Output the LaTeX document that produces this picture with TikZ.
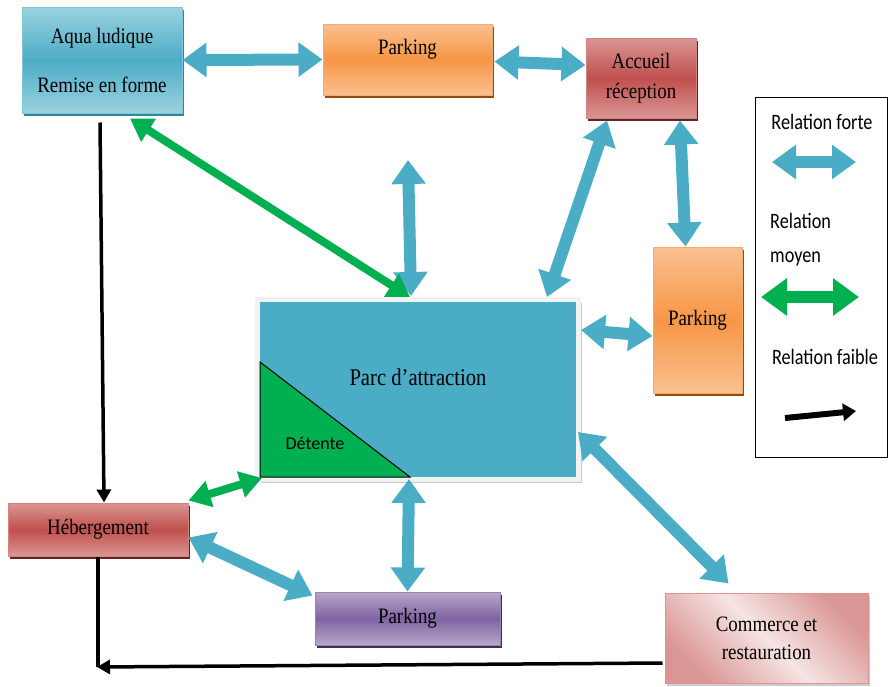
\documentclass[tikz,border=0pt]{standalone}
\usepackage{fontspec}
\setmainfont{Liberation Serif}[FakeStretch=0.86]
\newfontfamily\legfont{Carlito}[FakeStretch=0.83]
\newfontfamily\detfont{Carlito}
\usetikzlibrary{arrows.meta,positioning,calc,shadows}
\definecolor{bleu}{HTML}{4BACC6}
\definecolor{bleuclair}{HTML}{9CD2E0}
\definecolor{bleufonce}{HTML}{31859C}
\definecolor{orangepk}{HTML}{F79646}
\definecolor{orangeclair}{HTML}{FAC090}
\definecolor{orangefonce}{HTML}{984807}
\definecolor{rouge}{HTML}{C0504D}
\definecolor{rougeclair}{HTML}{DA9694}
\definecolor{rougefonce}{HTML}{632523}
\definecolor{mauve}{HTML}{8064A2}
\definecolor{mauveclair}{HTML}{B7A6CB}
\definecolor{mauvefonce}{HTML}{3F3151}
\definecolor{vert}{HTML}{00B050}
\definecolor{rose}{HTML}{F6E4E3}
\definecolor{rosefonce}{HTML}{D99694}

\begin{document}
\begin{tikzpicture}[x=1pt,y=-1pt,
    boite/.style={rectangle, line width=1pt, align=center, inner sep=2pt, font=\fontsize{22}{26}\selectfont},
    ombre/.style={drop shadow={shadow xshift=2pt,shadow yshift=-3pt,fill=#1,opacity=1}},
    bleubox/.style={boite, draw=bleu!70, top color=bleuclair, bottom color=bleuclair, middle color=bleu, ombre=bleufonce},
    orangebox/.style={boite, draw=orangepk!80, top color=orangeclair, bottom color=orangeclair, middle color=orangepk, ombre=orangefonce},
    rougebox/.style={boite, draw=rouge!70, top color=rougeclair, bottom color=rougeclair, middle color=rouge, ombre=rougefonce},
    mauvebox/.style={boite, draw=mauve!80, top color=mauveclair, bottom color=mauveclair, middle color=mauve, ombre=mauvefonce},
    rosebox/.style={boite, draw=rosefonce, left color=rosefonce, right color=rosefonce, middle color=rose, shading angle=135, ombre=gray!40},
    forte/.style={draw=bleu, line width=12pt, {Triangle[width=33pt,length=24pt]}-{Triangle[width=33pt,length=24pt]}},
    moyen/.style={draw=vert, line width=8pt, {Triangle[width=26pt,length=22pt]}-{Triangle[width=26pt,length=22pt]}},
    faible/.style={draw=black, line width=3.5pt, -{Triangle[width=14pt,length=13pt]}},
    leg/.style={font=\legfont\fontsize{22}{34}\selectfont, inner sep=0pt}]
\useasboundingbox (0,0) rectangle (889,686);

\node[bleubox, minimum width=160pt, minimum height=106pt] (aqua) at (102,60) {Aqua ludique\\[23pt]Remise en forme};
\node[orangebox, minimum width=169pt, minimum height=71pt, label={[font=\fontsize{22}{26}\selectfont, yshift=10pt]center:Parking}] (park1) at (407.5,59.5) {};
\node[rougebox, minimum width=110pt, minimum height=80pt] (accueil) at (641,78) {Accueil\\[4pt]réception};
\node[orangebox, minimum width=89pt, minimum height=146pt] (park2) at (697.5,320) {Parking};
\node[rougebox, minimum width=180pt, minimum height=53pt] (heb) at (98,529.5) {Hébergement};
\node[mauvebox, minimum width=185pt, minimum height=53pt] (park3) at (407.5,618.5) {Parking};
\node[rosebox, minimum width=203pt, minimum height=90pt] (com) at (766.5,638) {Commerce et\\[2pt]restauration};

\node[fill=bleu, draw=gray!10, line width=5pt, minimum width=321pt, minimum height=180pt,
      drop shadow={shadow xshift=3pt,shadow yshift=-3pt,fill=gray!45,opacity=1},
      label={[font=\fontsize{24}{28}\selectfont, yshift=12pt]center:Parc d’attraction}] (parc) at (418,389.5) {};
\draw[fill=vert, line width=1pt] (260,362) -- (260,477) -- (410,477) -- cycle;
\node[font=\detfont\fontsize{18}{22}\selectfont] (detente) at (315,443) {Détente};

\coordinate (haut) at (408,160);
\coordinate (coin) at (97,667);

\draw[forte] (aqua.east) -- (park1.west);
\draw[forte] ($(park1.east)+(2,2)$) -- ($(accueil.west)+(0,-13)$);
\draw[forte] (haut) -- ($(parc.north)+(-7,-1)$);
\draw[forte] ($(accueil.south)+(-34,2)$) -- ($(parc.north east)+(-34,0)$);
\draw[forte] ($(accueil.south)+(39,2)$) -- ($(park2.north)+(-12,0)$);
\draw[forte] ($(parc.north east)+(0,33)$) -- ($(park2.west)+(0,16)$);
\draw[forte] ($(parc.south east)+(-3,-50)$) -- ($(com.north)+(-38,-9)$);
\draw[forte] ($(parc.south)+(-9,-3)$) -- (park3.north);
\draw[forte] ($(heb.east)+(0,8)$) -- ($(park3.north west)+(-2,4)$);
\draw[moyen] ($(aqua.south)+(28,5)$) -- ($(parc.north)+(-8,0)$);
\draw[moyen] ($(heb.north east)+(0,-2)$) -- ($(parc.south west)+(7,-4)$);
\draw[faible] ($(aqua.south)+(-2,9)$) -- ($(heb.north)+(6,0)$);
\draw[line width=3.5pt] (heb.south) -- (heb.south |- coin);
\draw[faible] ($(com.west)+(-2,25)$) -- (coin);

\node[draw, line width=1pt, minimum width=132pt, minimum height=360pt] (legende) at (821,277) {};
\node[leg] (lforte) at (822,122) {Relation forte};
\node[leg, align=left, anchor=west] (lmoyen) at (770,240) {Relation\\moyen};
\node[leg] (lfaible) at (825,357) {Relation faible};
\coordinate (f1) at (772,162);
\coordinate (f2) at (856,162);
\coordinate (m1) at (761,297);
\coordinate (m2) at (859,297);
\coordinate (a1) at (785,418);
\coordinate (a2) at (856,411);
\draw[forte] (f1) -- (f2);
\draw[moyen, line width=12pt, {Triangle[width=36pt,length=26pt]}-{Triangle[width=36pt,length=26pt]}] (m1) -- (m2);
\draw[faible, line width=6pt, -{Triangle[width=17pt,length=13pt]}] (a1) -- (a2);
\end{tikzpicture}
\end{document}
